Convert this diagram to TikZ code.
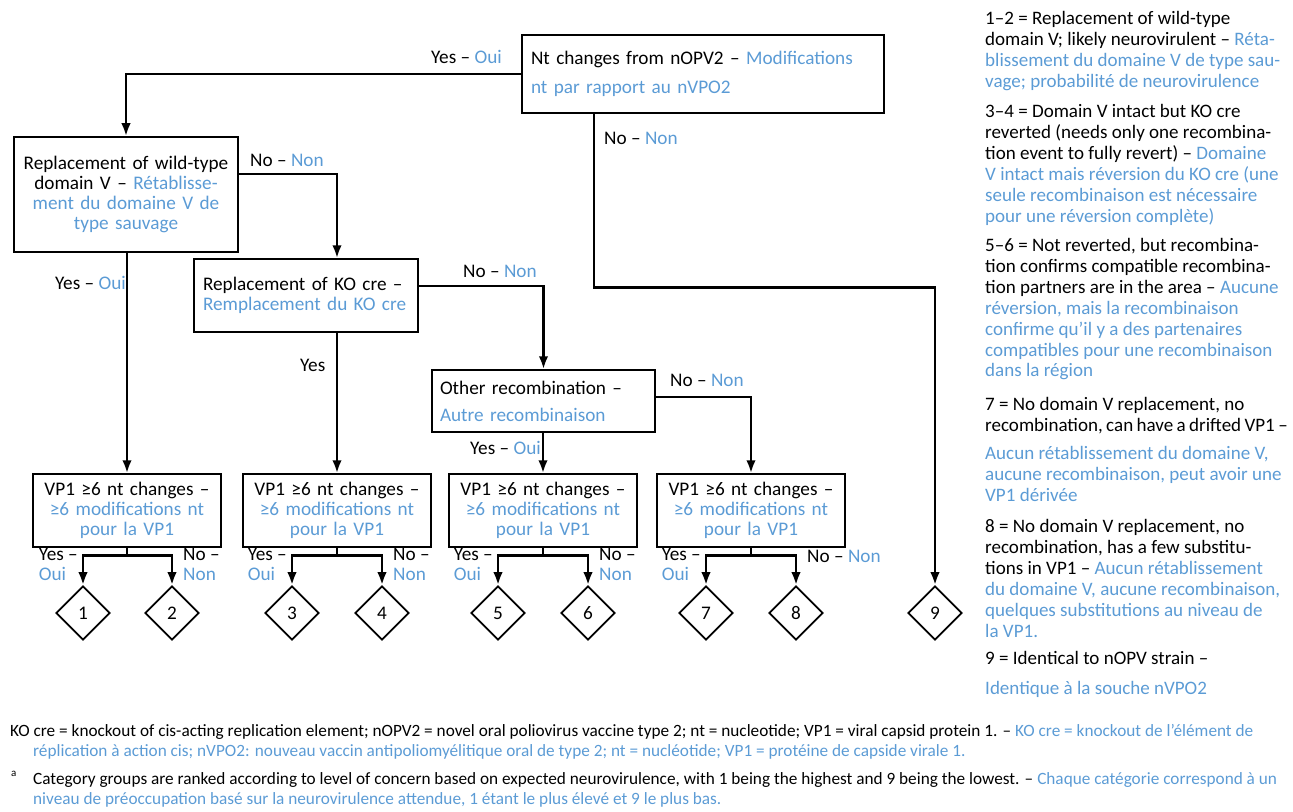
\documentclass[tikz,border=0pt]{standalone}
\usepackage{fontspec}
\setmainfont{Carlito}
\usetikzlibrary{arrows.meta,shapes.geometric}
\definecolor{frblue}{RGB}{91,155,213}
\newcommand{\fr}[1]{\textcolor{frblue}{#1}}

\tikzset{
  every node/.style={font=\fontsize{19.3}{20}\selectfont},
  box/.style={draw, line width=1.5bp, inner sep=0pt},
  vpbox/.style={box, minimum width=188bp, minimum height=73bp, text width=182bp, align=center},
  diam/.style={draw, diamond, line width=1.7bp, inner sep=0pt, minimum width=54bp, minimum height=54bp},
  arr/.style={line width=2.6bp, -{Latex[length=13bp,width=9.5bp]}},
  lbl/.style={inner sep=0pt, align=left},
  legend/.style={inner sep=0pt, align=left, anchor=north west, font=\fontsize{19.1}{21}\selectfont},
  foot/.style={inner sep=0pt, anchor=west, font=\fontsize{17.3}{20}\selectfont}
}

\begin{document}
\begin{tikzpicture}[x=1bp, y=-1bp]
\useasboundingbox (0,0) rectangle (1293,812);

% decision boxes
\node[box, minimum width=362bp, minimum height=78bp, text width=344bp, align=left,
  font=\fontsize{19.3}{29}\selectfont] (nt) at (703,74)
  {Nt changes from nOPV2 – \fr{Modifications}\\\fr{nt par rapport au nVPO2}};
\node[box, minimum width=224bp, minimum height=115bp, text width=214bp, align=center] (wild) at (126,194.5)
  {Replacement of wild-type\\domain V – \fr{Rétablisse-}\\\fr{ment du domaine V de}\\\fr{type sauvage}};
\node[box, minimum width=224bp, minimum height=73bp, text width=206bp, align=left] (ko) at (306,295.5)
  {Replacement of KO cre –\\\fr{Remplacement du KO cre}};
\node[box, minimum width=223bp, minimum height=62bp, text width=207bp, align=left,
  font=\fontsize{19.3}{27}\selectfont] (other) at (543.5,401)
  {Other recombination –\\\fr{Autre recombinaison}};

\foreach \i/\x in {1/127,2/337,3/543,4/751}
  \node[vpbox] (vp\i) at (\x,510.5) {VP1 ≥6 nt changes –\\\fr{≥6 modifications nt}\\\fr{pour la VP1}};

\foreach \i/\x in {1/83,2/172,3/292,4/382,5/498,6/588,7/706,8/796,9/935}
  \node[diam] (d\i) at (\x,613) {\i};

% connectors
\draw[arr] (nt.west) -| (wild.north);
\draw[arr] ([xshift=-109bp]nt.south) -- ++(0,174) -| (d9.north);
\draw[arr] ([yshift=20.5bp]wild.east) -| ([xshift=31bp]ko.north);
\draw[arr] (wild.south -| vp1.north) -- (vp1.north);
\draw[arr] ([yshift=9.5bp]ko.east) -| (other.north);
\draw[arr] (ko.south -| vp2.north) -- (vp2.north);
\draw[arr] ([yshift=4bp]other.east) -| (vp4.north);
\draw[arr] (other.south -| vp3.north) -- (vp3.north);

\foreach \i/\l/\r in {1/1/2,2/3/4,3/5/6,4/7/8} {
  \draw[arr] (vp\i.south) -- ++(0,8) -| (d\l.north);
  \draw[arr] (vp\i.south) -- ++(0,8) -| (d\r.north);
  \node[lbl, anchor=north east] (yes\i) at ([xshift=-5bp,yshift=37bp]d\l.north) {Yes –\\\fr{Oui}};
}
\foreach \i/\r in {1/2,2/4,3/6}
  \node[lbl, anchor=north west] (no\i) at ([xshift=11bp,yshift=37bp]d\r.north) {No –\\\fr{Non}};
\node[lbl, anchor=west] (no4) at ([xshift=11bp,yshift=29bp]d8.north) {No – \fr{Non}};

% branch labels
\node[lbl, anchor=east] (ntyes) at (502,57) {Yes – \fr{Oui}};
\node[lbl, anchor=west] (ntno) at (604,138) {No – \fr{Non}};
\node[lbl, anchor=west] (wildno) at (250,160) {No – \fr{Non}};
\node[lbl, anchor=west] (wildyes) at (55,283) {Yes – \fr{Oui}};
\node[lbl, anchor=west] (kono) at (463,271) {No – \fr{Non}};
\node[lbl, anchor=west] (koyes) at (300,365) {Yes};
\node[lbl, anchor=west] (otherno) at (670,380) {No – \fr{Non}};
\node[lbl, anchor=west] (otheryes) at (470,448) {Yes – \fr{Oui}};

% legend
\node[legend] (leg12) at (985,11) {1–2 = Replacement of wild-type\\domain V; likely neurovirulent – \fr{Réta-}\\\fr{blissement du domaine V de type sau-}\\\fr{vage; probabilité de neurovirulence}};
\node[legend] (leg34) at (985,104) {3–4 = Domain V intact but KO cre\\reverted (needs only one recombina-\\tion event to fully revert) – \fr{Domaine}\\\fr{V intact mais réversion du KO cre (une}\\\fr{seule recombinaison est nécessaire}\\\fr{pour une réversion complète)}};
\node[legend] (leg56) at (985,238) {5–6 = Not reverted, but recombina-\\tion confirms compatible recombina-\\tion partners are in the area – \fr{Aucune}\\\fr{réversion, mais la recombinaison}\\\fr{confirme qu’il y a des partenaires}\\\fr{compatibles pour une recombinaison}\\\fr{dans la région}};
\node[legend] (leg7) at (985,397) {7 = No domain V replacement, no\\{\spaceskip=3.4bp recombination, can have a drifted VP1 –}\\[7bp]\fr{Aucun rétablissement du domaine V,}\\\fr{aucune recombinaison, peut avoir une}\\\fr{VP1 dérivée}};
\node[legend] (leg8) at (985,519) {8 = No domain V replacement, no\\recombination, has a few substitu-\\tions in VP1 – \fr{Aucun rétablissement}\\\fr{du domaine V, aucune recombinaison,}\\\fr{quelques substitutions au niveau de}\\\fr{la VP1.}};
\node[legend] (leg9) at (985,651) {9 = Identical to nOPV strain –\\[9bp]\fr{Identique à la souche nVPO2}};

% footnotes
\node[foot] (fn1) at (10,732) {KO cre = knockout of cis-acting replication element; nOPV2 = novel oral poliovirus vaccine type 2; nt = nucleotide; VP1 = viral capsid protein 1. – \fr{KO cre = knockout de l’élément de}};
\node[foot] (fn1b) at (33,752) {\fr{réplication à action cis; nVPO2: nouveau vaccin antipoliomyélitique oral de type 2; nt = nucléotide; VP1 = protéine de capside virale 1.}};
\node[foot, font=\fontsize{11}{12}\selectfont] (fnmark) at (11,774) {a};
\node[foot] (fn2) at (33,780) {Category groups are ranked according to level of concern based on expected neurovirulence, with 1 being the highest and 9 being the lowest. – \fr{Chaque catégorie correspond à un}};
\node[foot] (fn2b) at (33,800) {\fr{niveau de préoccupation basé sur la neurovirulence attendue, 1 étant le plus élevé et 9 le plus bas.}};
\end{tikzpicture}
\end{document}
